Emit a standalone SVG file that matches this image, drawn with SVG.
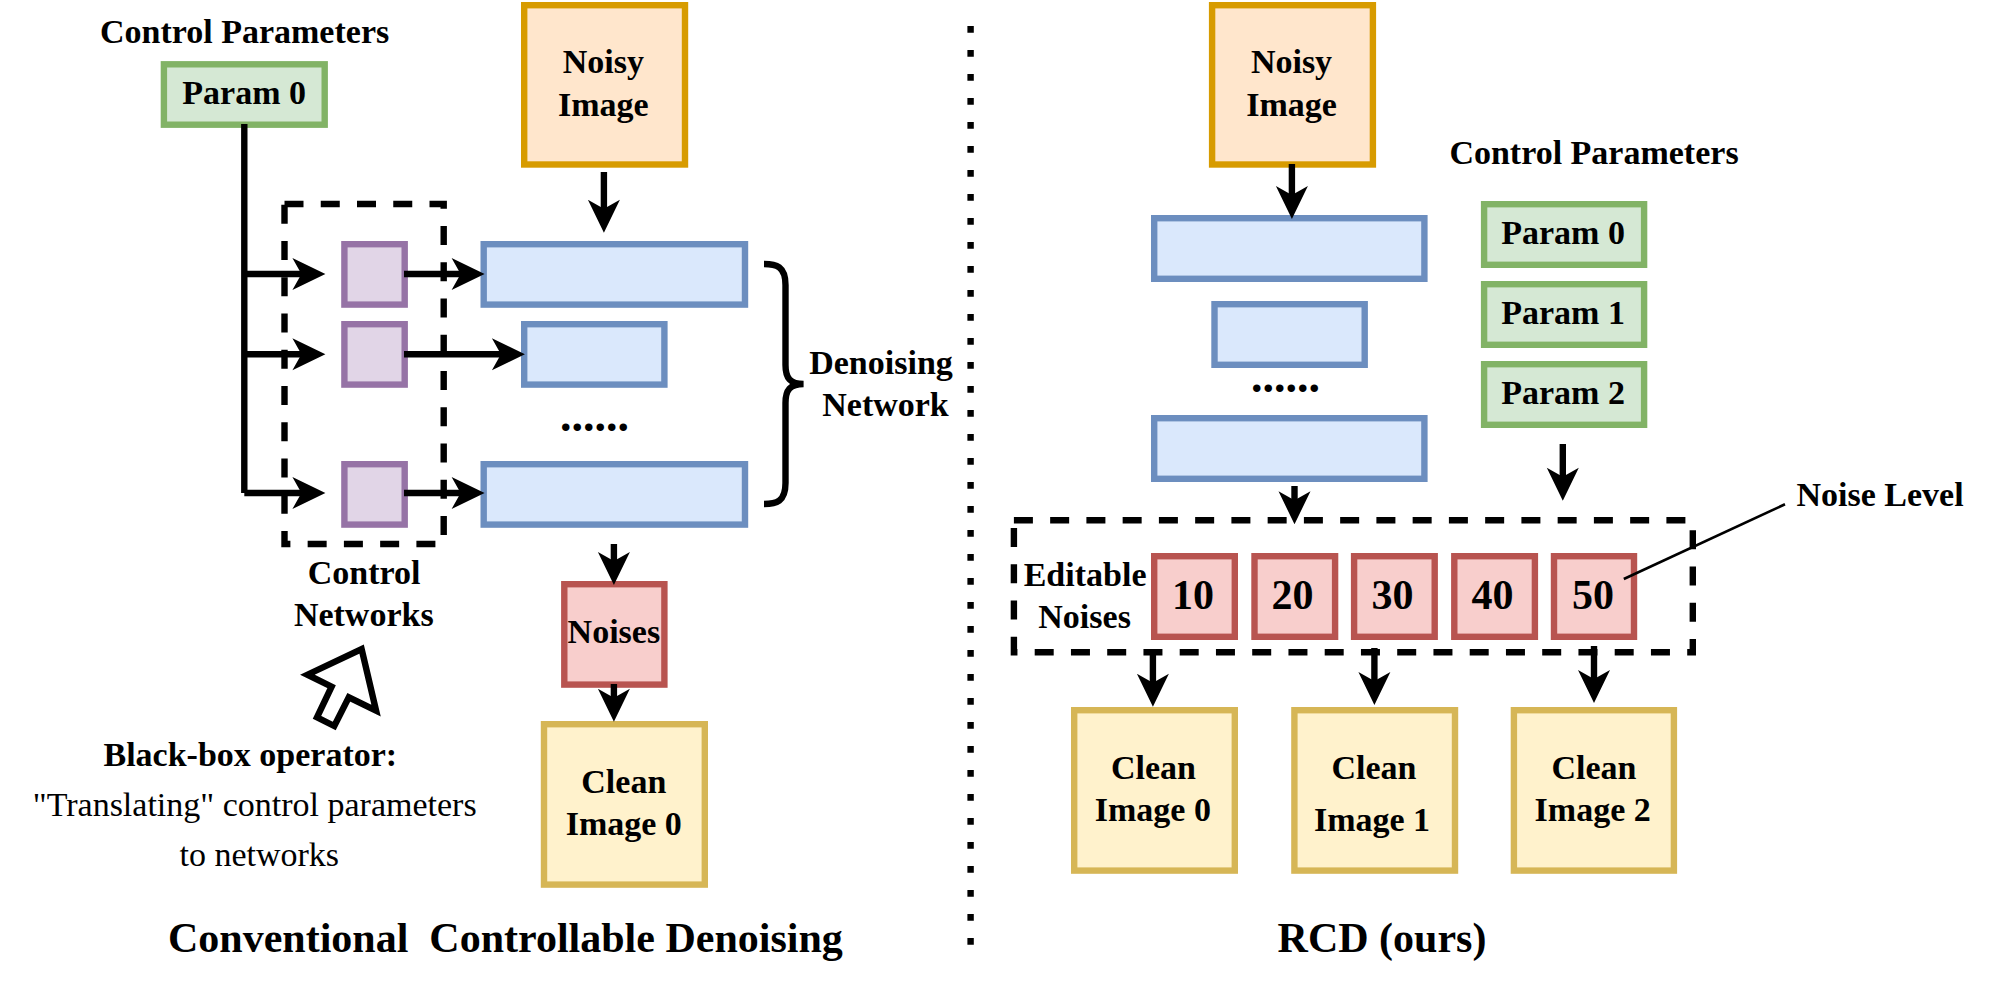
<svg xmlns="http://www.w3.org/2000/svg" width="1995" height="986" viewBox="0 0 1995 986">
<style>
text{font-family:"Liberation Serif","Times New Roman",serif;font-size:34px;font-weight:700;text-anchor:middle;fill:#000;white-space:pre}
.reg{font-weight:400}
.big{font-size:42px}
.dots{font-size:46px}
rect{stroke-width:6.4}
.orange{fill:#ffe6cc;stroke:#d79b00}
.green{fill:#d5e8d4;stroke:#82b366}
.blue{fill:#dae8fc;stroke:#6c8ebf}
.purple{fill:#e1d5e7;stroke:#9673a6}
.red{fill:#f8cecc;stroke:#b85450}
.yellow{fill:#fff2cc;stroke:#d6b656}
.box{fill:none;stroke:#000;stroke-width:6.4;stroke-dasharray:19 17.25}
.c{fill:none;stroke:#000;stroke-width:6.4;marker-end:url(#a)}
.p{fill:none;stroke:#000;stroke-width:6.4}
</style>
<defs>
<marker id="a" markerUnits="userSpaceOnUse" markerWidth="40" markerHeight="40" viewBox="0 -20 40 40" refX="12" refY="0" orient="auto" overflow="visible"><path d="M0,-16L33,0L0,16L9,0Z" fill="#000"/></marker>
</defs>
<rect fill="#fff" width="1995" height="986" style="stroke:none"/>
<g id="regions">
<path id="control-networks-box" class="box" d="M284.5,204H443.7V544H284.5Z"/>
<path id="editable-noises-box" class="box" d="M1013.9,520.3H1692.8V652.3H1013.9Z"/>
<line id="divider" x1="970.6" y1="26" x2="970.6" y2="945" stroke="#000" stroke-width="6.4" stroke-dasharray="6.7 17.3"/>
</g>
<g id="left-label"><text x="244.6" y="43.2">Control Parameters</text></g>
<g id="left-param0"><rect class="green" x="163.9" y="64.3" width="160.8" height="60.4"/><text x="244.2" y="103.8">Param 0</text></g>
<g id="left-noisy"><rect class="orange" x="524.2" y="5.2" width="160.8" height="159.3"/><text x="603.3" y="73.2">Noisy</text><text x="603.3" y="115.5">Image</text></g>
<g id="ctrl0"><rect class="purple" x="344.4" y="244.2" width="60.3" height="60.4"/></g>
<g id="ctrl1"><rect class="purple" x="344.4" y="324.2" width="60.3" height="60.4"/></g>
<g id="ctrl2"><rect class="purple" x="344.4" y="464.2" width="60.3" height="60.4"/></g>
<g id="left-blue0"><rect class="blue" x="483.7" y="244.2" width="261.3" height="60.4"/></g>
<g id="left-blue1"><rect class="blue" x="524.2" y="324.2" width="140.2" height="60.4"/></g>
<g id="left-blue2"><rect class="blue" x="483.7" y="464.2" width="261.3" height="60.4"/></g>
<g id="left-dots"><text class="dots" x="594.5" y="431">......</text></g>
<g id="denoising-label"><text x="881" y="373.5">Denoising</text><text x="885.5" y="415.5">Network</text></g>
<g id="control-networks-label"><text x="364.1" y="583.8">Control</text><text x="363.8" y="625.8">Networks</text></g>
<g id="left-noises"><rect class="red" x="564.3" y="584.2" width="100.1" height="100.4"/><text x="613.9" y="643.2">Noises</text></g>
<g id="left-clean"><rect class="yellow" x="544" y="724.2" width="160.8" height="160.4"/><text x="623.8" y="792.8">Clean</text><text x="623.8" y="834.8">Image 0</text></g>
<g id="cursor"><path d="M361.6,649L376.1,710.7L348.8,697.3L334.3,726L317,717.3L331.6,686.7L307.4,674.7Z" fill="#fff" stroke="#000" stroke-width="6.4"/></g>
<g id="operator-label"><text x="250.3" y="766.2">Black-box operator:</text><text class="reg" x="254.7" y="816.2">"Translating" control parameters</text><text class="reg" x="259.3" y="866.2">to networks</text></g>
<g id="left-title"><text class="big" x="505.4" y="952">Conventional  Controllable Denoising</text></g>
<g id="right-noisy"><rect class="orange" x="1212.1" y="5.2" width="160.8" height="159.3"/><text x="1291.5" y="73.2">Noisy</text><text x="1291.5" y="115.5">Image</text></g>
<g id="right-blue0"><rect class="blue" x="1154.2" y="218.2" width="270.2" height="60.6"/></g>
<g id="right-blue1"><rect class="blue" x="1214.5" y="304.2" width="150.2" height="60.6"/></g>
<g id="right-dots"><text class="dots" x="1285.5" y="391.5">......</text></g>
<g id="right-blue2"><rect class="blue" x="1154.2" y="418.2" width="270.2" height="60.6"/></g>
<g id="right-label"><text x="1594" y="163.8">Control Parameters</text></g>
<g id="right-param0"><rect class="green" x="1484.1" y="204.2" width="160" height="60.6"/><text x="1563.1" y="243.8">Param 0</text></g>
<g id="right-param1"><rect class="green" x="1484.1" y="284.2" width="160" height="60.6"/><text x="1563.1" y="323.8">Param 1</text></g>
<g id="right-param2"><rect class="green" x="1484.1" y="364.2" width="160" height="60.6"/><text x="1563.1" y="403.8">Param 2</text></g>
<g id="noise-level-label"><text x="1880.1" y="505.5">Noise Level</text></g>
<g id="editable-label"><text x="1085.1" y="586.2">Editable</text><text x="1084.6" y="627.8">Noises</text></g>
<g id="n10"><rect class="red" x="1154.2" y="556.2" width="80.6" height="80.6"/><text class="big" x="1193" y="609.3">10</text></g>
<g id="n20"><rect class="red" x="1254.5" y="556.2" width="80.6" height="80.6"/><text class="big" x="1292.5" y="609.3">20</text></g>
<g id="n30"><rect class="red" x="1354.1" y="556.2" width="80.6" height="80.6"/><text class="big" x="1392.5" y="609.3">30</text></g>
<g id="n40"><rect class="red" x="1454.3" y="556.2" width="80.6" height="80.6"/><text class="big" x="1492.5" y="609.3">40</text></g>
<g id="n50"><rect class="red" x="1554" y="556.2" width="80" height="80.6"/><text class="big" x="1593" y="609.3">50</text></g>
<g id="clean0"><rect class="yellow" x="1074.2" y="710.2" width="160.6" height="160.4"/><text x="1153.5" y="778.8">Clean</text><text x="1152.9" y="821.2">Image 0</text></g>
<g id="clean1"><rect class="yellow" x="1294.4" y="710.2" width="160.6" height="160.4"/><text x="1374" y="778.8">Clean</text><text x="1372" y="831.2">Image 1</text></g>
<g id="clean2"><rect class="yellow" x="1513.9" y="710.2" width="160" height="160.4"/><text x="1594" y="778.8">Clean</text><text x="1592.7" y="821.2">Image 2</text></g>
<g id="right-title"><text class="big" x="1382" y="952">RCD (ours)</text></g>
<g id="connectors">
<path class="p" d="M244.3,124V493"/>
<path class="c" d="M244.3,274H304.4"/>
<path class="c" d="M244.3,354.3H304.4"/>
<path class="c" d="M244.3,493H304.4"/>
<path class="c" d="M404,274H463.6"/>
<path class="c" d="M404,354.3H503.9"/>
<path class="c" d="M404,493H463.6"/>
<path class="c" d="M603.9,172V211.7"/>
<path class="c" d="M613.9,544V564"/>
<path class="c" d="M613.9,684V700.7"/>
<path class="c" d="M1291.9,164V198"/>
<path class="c" d="M1562.8,444V479.7"/>
<path class="c" d="M1294.5,486V503.3"/>
<path class="c" d="M1152.9,650V685.7"/>
<path class="c" d="M1374.4,648V684"/>
<path class="c" d="M1594,646V682"/>
<path d="M1623.8,579L1785,504.3" fill="none" stroke="#000" stroke-width="2.6"/>
<path class="p" d="M764,264C776,264 785.5,266 785.5,285V365C785.5,378 790,384 803.6,384C790,384 785.5,390 785.5,403V483C785.5,502 776,504 764,504"/>
</g>
</svg>
